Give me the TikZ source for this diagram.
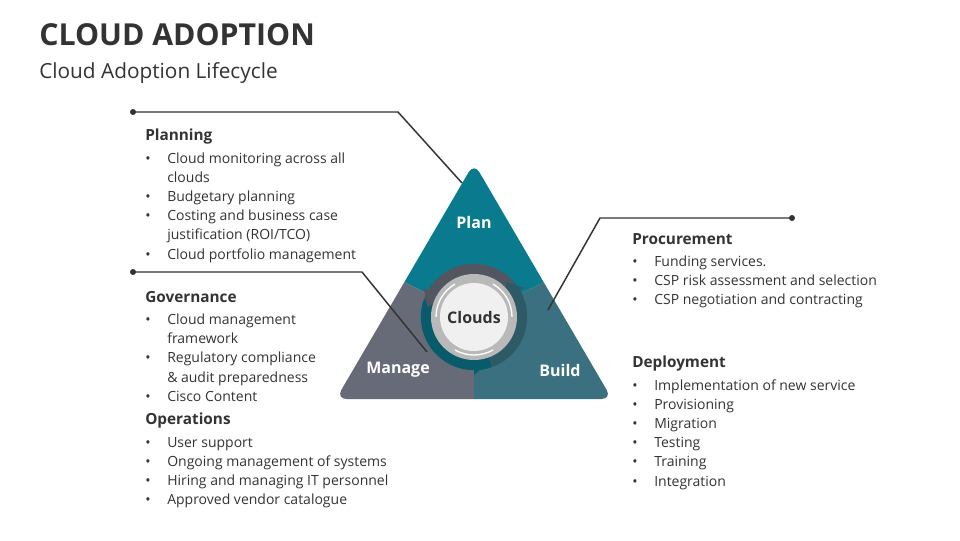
\documentclass[tikz,border=0pt]{standalone}
\usepackage{fontspec}
\setmainfont{Open Sans}
\usetikzlibrary{arrows.meta,calc}
\definecolor{plan}{HTML}{0A7A8F}
\definecolor{manage}{HTML}{676B78}
\definecolor{build}{HTML}{3A7080}
\definecolor{txt}{HTML}{333333}
\newcommand{\bl}[1]{\makebox[16.5pt][l]{•}#1}
\newcommand{\cl}[1]{\hspace*{16.5pt}#1}
\newcommand{\hdr}[1]{{\bfseries\fontsize{11.5pt}{14.3pt}\selectfont #1}\\[2.2pt]}
\tikzset{blk/.style={anchor=north west,align=left,inner sep=0,text=txt,font=\fontsize{10.5pt}{14.4pt}\selectfont},
conn/.style={draw=txt,line width=1.1pt},
lab/.style={text=white,font=\bfseries\fontsize{12pt}{14pt}\selectfont}}
\begin{document}
\begin{tikzpicture}[x=0.75pt,y=-0.75pt]
\useasboundingbox (0,0) rectangle (960,540);
\node[anchor=west,inner sep=0,text=txt,font=\bfseries\fontsize{22.7pt}{26pt}\selectfont] (title) at (39,35) {CLOUD ADOPTION};
\node[anchor=west,inner sep=0,text=txt,font=\fontsize{15.6pt}{18pt}\selectfont] (sub) at (39,73) {Cloud Adoption Lifecycle};
% triangle regions
\coordinate (c) at (474,317);
\begin{scope}
\clip[rounded corners=8pt] (474,163) -- (612,399) -- (336,399) -- cycle;
\fill[plan] (c) -- (404,282) -- (474,150) -- (544,282) -- cycle;
\fill[manage] (c) -- (404,282) -- (320,410) -- (474,410) -- cycle;
\fill[build] (c) -- (544,282) -- (630,410) -- (474,410) -- cycle;
\end{scope}
% ring
\draw[line width=8.5pt,draw=plan!75!black] (c) ++(200:47.5) arc[start angle=200,end angle=70,radius=47.5];
\draw[line width=8.5pt,draw=build!80!black] (c) ++(70:47.5) arc[start angle=70,end angle=-40,radius=47.5];
\draw[line width=8.5pt,draw=manage!80!black] (c) ++(-40:47.5) arc[start angle=-40,end angle=-160,radius=47.5];
\fill[build!80!black] ($(c)+(-30:58)$) -- ($(c)+(-30:38)$) -- ($(c)+(-48:47.5)$) -- cycle;
\fill[manage!80!black] ($(c)+(-150:58)$) -- ($(c)+(-150:38)$) -- ($(c)+(-168:47.5)$) -- cycle;
\fill[plan!75!black] ($(c)+(90:58)$) -- ($(c)+(90:38)$) -- ($(c)+(72:47.5)$) -- cycle;
\fill[gray!55] (c) circle[radius=43];
\fill[gray!12] (c) circle[radius=34];
\draw[white,line width=1pt] (c) ++(120:38) arc[start angle=120,end angle=60,radius=38];
\draw[white,line width=1pt] (c) ++(0:38) arc[start angle=0,end angle=-60,radius=38];
\draw[white,line width=1pt] (c) ++(240:38) arc[start angle=240,end angle=180,radius=38];
\node[text=txt,font=\bfseries\fontsize{12pt}{14pt}\selectfont] (clouds) at (c) {Clouds};
\node[lab] (plabel) at (474,222) {Plan};
\node[lab] (mlabel) at (398,370) {Manage};
\node[lab] (blabel) at (560,370) {Build};
% connectors
\coordinate (p0) at (133,112); \coordinate (p1) at (398,112); \coordinate (p2) at (462,183);
\coordinate (g0) at (133,272); \coordinate (g1) at (362,272); \coordinate (g2) at (427,352);
\coordinate (r0) at (792,218); \coordinate (r1) at (600,218); \coordinate (r2) at (548,310);
\draw[conn] (p0) -- (p1) -- (p2); \fill[txt] (p0) circle[radius=3];
\draw[conn] (g0) -- (g1) -- (g2); \fill[txt] (g0) circle[radius=3];
\draw[conn] (r0) -- (r1) -- (r2); \fill[txt] (r0) circle[radius=3];
% text blocks
\node[blk] (planning) at (145,129) {\hdr{Planning}
\bl{Cloud monitoring across all}\\ \cl{clouds}\\ \bl{Budgetary planning}\\ \bl{Costing and business case}\\ \cl{justification (ROI/TCO)}\\ \bl{Cloud portfolio management}};
\node[blk] (gov) at (145,291) {\hdr{Governance}
\bl{Cloud management}\\ \cl{framework}\\ \bl{Regulatory compliance}\\ \cl{\& audit preparedness}\\ \bl{Cisco Content}};
\node[blk] (ops) at (145,413) {\hdr{Operations}
\bl{User support}\\ \bl{Ongoing management of systems}\\ \bl{Hiring and managing IT personnel}\\ \bl{Approved vendor catalogue}};
\node[blk] (proc) at (632,233) {\hdr{Procurement}
\bl{Funding services.}\\ \bl{CSP risk assessment and selection}\\ \bl{CSP negotiation and contracting}};
\node[blk] (dep) at (632,356) {\hdr{Deployment}
\bl{Implementation of new service}\\ \bl{Provisioning}\\ \bl{Migration}\\ \bl{Testing}\\ \bl{Training}\\ \bl{Integration}};
\end{tikzpicture}
\end{document}
